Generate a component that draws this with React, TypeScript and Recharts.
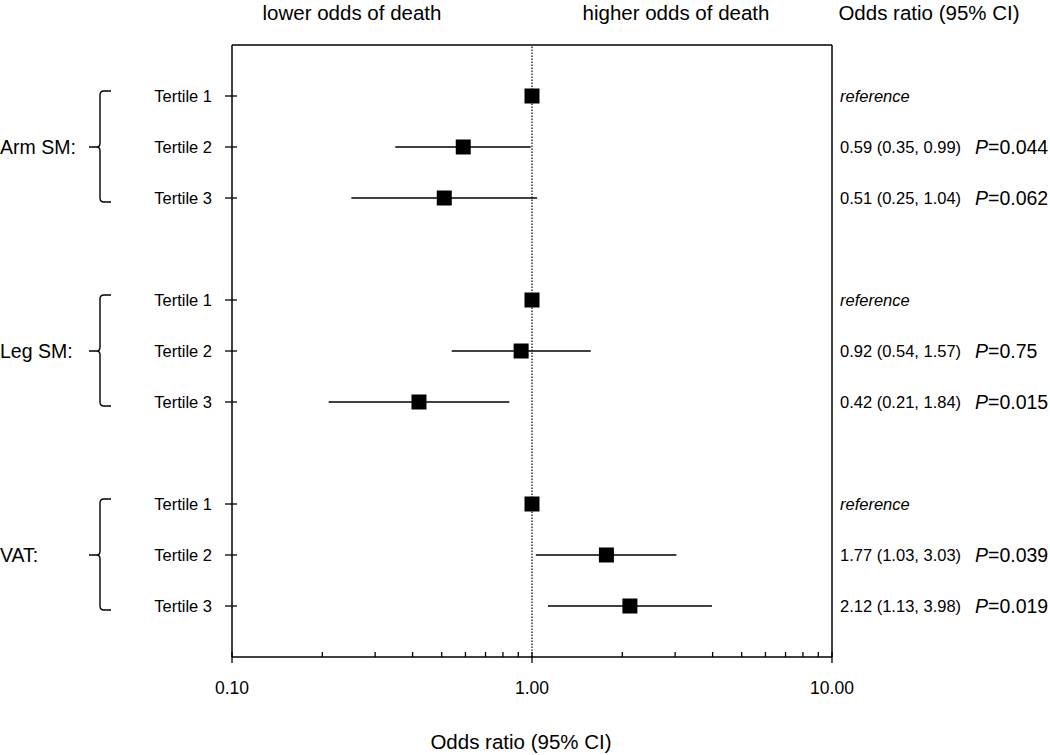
import React from "react";
import { ScatterChart, Scatter, XAxis, YAxis, ErrorBar, ReferenceLine } from "recharts";

const groupNames = ["Arm SM:", "Leg SM:", "VAT:"];
const rowPositions = [1, 2, 3, 5, 6, 7, 9, 10, 11];
const rowLabels = ["Tertile 1", "Tertile 2", "Tertile 3", "Tertile 1", "Tertile 2", "Tertile 3", "Tertile 1", "Tertile 2", "Tertile 3"];
const oddsRatios = [1, 0.59, 0.51, 1, 0.92, 0.42, 1, 1.77, 2.12];
const ciLower = [1, 0.35, 0.25, 1, 0.54, 0.21, 1, 1.03, 1.13];
// the drawn bar for Leg SM tertile 3 stops near 0.84, even though its label reads 1.84
const ciUpper = [1, 0.99, 1.04, 1, 1.57, 0.84, 1, 3.03, 3.98];
const ciLabels = ["reference", "0.59 (0.35, 0.99)", "0.51 (0.25, 1.04)", "reference", "0.92 (0.54, 1.57)", "0.42 (0.21, 1.84)", "reference", "1.77 (1.03, 3.03)", "2.12 (1.13, 3.98)"];
const pValues = ["", "0.044", "0.062", "", "0.75", "0.015", "", "0.039", "0.019"];
const xTicks = [0.1, 0.2, 0.3, 0.4, 0.5, 0.6, 0.7, 0.8, 0.9, 1, 2, 3, 4, 5, 6, 7, 8, 9, 10];
const xMajorTicks = [0.1, 1, 10];
const xMajorLabels = ["0.10", "1.00", "10.00"];

const FONT = "'Liberation Sans', Arial, Helvetica, sans-serif";
const ROW_PX = 612 / 12;

const chartData = rowPositions.map((row, i) => ({
  row,
  or: oddsRatios[i],
  err: [oddsRatios[i] - ciLower[i], ciUpper[i] - oddsRatios[i]],
}));

const LeftTick = ({ x, y, payload }: any) => {
  const i = rowPositions.indexOf(payload.value);
  if (i < 0) return null;
  const isMid = i % 3 === 1;
  const top = y - ROW_PX - 5;
  const bot = y + ROW_PX + 4;
  const bx = x - 132;
  return (
    <g>
      <line x1={x - 7} x2={x + 5} y1={y} y2={y} stroke="#000" strokeWidth={1.3} />
      <text x={x - 20} y={y + 6} textAnchor="end" fontSize={16.5} fill="#000" fontFamily={FONT}>
        {rowLabels[i]}
      </text>
      {isMid && (
        <>
          <path
            d={`M ${bx + 11} ${top} L ${bx + 4} ${top} Q ${bx} ${top} ${bx} ${top + 4} L ${bx} ${y - 4} Q ${bx} ${y} ${bx - 3} ${y} L ${bx - 11} ${y} M ${bx - 3} ${y} Q ${bx} ${y} ${bx} ${y + 4} L ${bx} ${bot - 4} Q ${bx} ${bot} ${bx + 4} ${bot} L ${bx + 11} ${bot}`}
            fill="none"
            stroke="#000"
            strokeWidth={1.4}
          />
          <text x={0} y={y + 7} fontSize={19.5} fill="#000" fontFamily={FONT}>
            {groupNames[Math.floor(i / 3)]}
          </text>
        </>
      )}
    </g>
  );
};

const RightTick = ({ x, y, payload }: any) => {
  const i = rowPositions.indexOf(payload.value);
  if (i < 0) return null;
  const isRef = ciLabels[i] === "reference";
  return (
    <g fontFamily={FONT} fill="#000">
      <text x={x + 8} y={y + 6} fontSize={16.5} fontStyle={isRef ? "italic" : "normal"}>
        {ciLabels[i]}
      </text>
      {pValues[i] && (
        <text x={x + 143} y={y + 7} fontSize={19.5}>
          <tspan fontStyle="italic">P</tspan>
          <tspan>={pValues[i]}</tspan>
        </text>
      )}
    </g>
  );
};

const BottomTick = ({ x, y, payload }: any) => {
  const k = xMajorTicks.findIndex((t) => Math.abs(t - payload.value) < 1e-9);
  const major = k >= 0;
  return (
    <g>
      <line x1={x} x2={x} y1={y - 5} y2={major ? y + 6 : y} stroke="#000" strokeWidth={1.3} />
      {major && (
        <text x={x} y={y + 37} textAnchor="middle" fontSize={17.5} fill="#000" fontFamily={FONT}>
          {xMajorLabels[k]}
        </text>
      )}
    </g>
  );
};

const TopLabels = ({ viewBox }: any) => {
  const { x } = viewBox;
  return (
    <g fontFamily={FONT} fill="#000" fontSize={20.5}>
      <text x={x + 120} y={20} textAnchor="middle">lower odds of death</text>
      <text x={x + 444} y={20} textAnchor="middle">higher odds of death</text>
      <text x={x + 697} y={20} textAnchor="middle">Odds ratio (95% CI)</text>
    </g>
  );
};

const BottomTitle = ({ viewBox }: any) => {
  const { x, y, width } = viewBox;
  return (
    <text x={x + width / 2 - 11} y={y + 92} textAnchor="middle" fontSize={20.5} fill="#000" fontFamily={FONT}>
      Odds ratio (95% CI)
    </text>
  );
};

export default function App() {
  return (
    <div style={{ position: "absolute", left: 0, top: 0, background: "#fff", fontFamily: FONT }}>
      <ScatterChart width={1050} height={755} margin={{ top: 0, right: 0, bottom: 0, left: 0 }}>
        <XAxis
          xAxisId="bottom"
          dataKey="or"
          type="number"
          scale="log"
          domain={[0.1, 10]}
          allowDataOverflow
          ticks={xTicks}
          interval={0}
          height={98}
          tickSize={0}
          tickMargin={0}
          tickLine={false}
          tick={<BottomTick />}
          axisLine={{ stroke: "#000", strokeWidth: 1.5 }}
          label={<BottomTitle />}
        />
        <XAxis
          xAxisId="top"
          orientation="top"
          dataKey="or"
          type="number"
          scale="log"
          domain={[0.1, 10]}
          allowDataOverflow
          height={45}
          tick={false}
          tickLine={false}
          axisLine={{ stroke: "#000", strokeWidth: 1.5 }}
          label={<TopLabels />}
        />
        <YAxis
          yAxisId="left"
          dataKey="row"
          type="number"
          domain={[0, 12]}
          reversed
          ticks={rowPositions}
          interval={0}
          width={232}
          tickSize={0}
          tickMargin={0}
          tickLine={false}
          tick={<LeftTick />}
          axisLine={{ stroke: "#000", strokeWidth: 1.5 }}
        />
        <YAxis
          yAxisId="right"
          orientation="right"
          dataKey="row"
          type="number"
          domain={[0, 12]}
          reversed
          ticks={rowPositions}
          interval={0}
          width={218}
          tickSize={0}
          tickMargin={0}
          tickLine={false}
          tick={<RightTick />}
          axisLine={{ stroke: "#000", strokeWidth: 1.5 }}
        />
        <ReferenceLine
          x={1}
          xAxisId="bottom"
          yAxisId="left"
          stroke="#000"
          strokeWidth={1.2}
          strokeDasharray="1.5 1.5"
        />
        {/* invisible series that binds the right-hand axis (text column) and top frame axis */}
        <Scatter
          data={chartData}
          xAxisId="top"
          yAxisId="right"
          isAnimationActive={false}
          shape={() => <g />}
        />
        <Scatter
          data={chartData}
          xAxisId="bottom"
          yAxisId="left"
          isAnimationActive={false}
          shape={({ cx, cy }: any) => <rect x={cx - 7.5} y={cy - 7.5} width={15} height={15} fill="#000" />}
        >
          <ErrorBar dataKey="err" direction="x" width={0} stroke="#000" strokeWidth={1.5} isAnimationActive={false} />
        </Scatter>
      </ScatterChart>
    </div>
  );
}
